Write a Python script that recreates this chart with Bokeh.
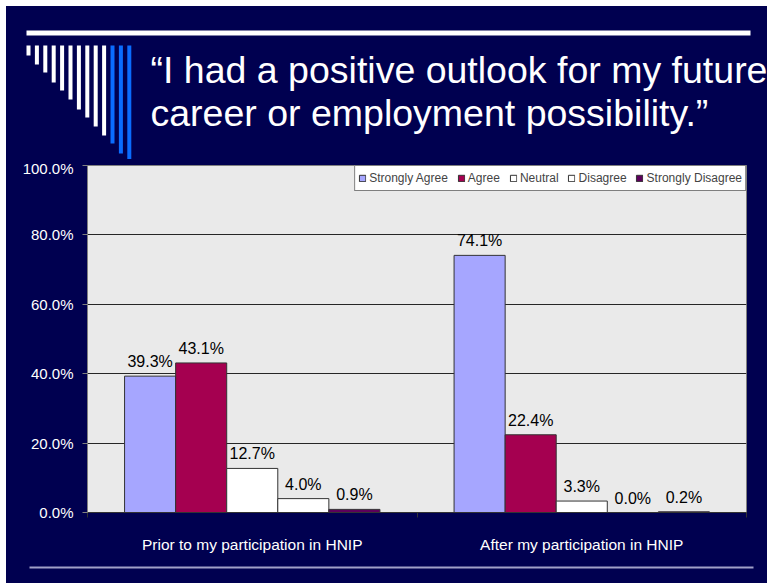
from bokeh.plotting import figure
from bokeh.layouts import column
from bokeh.models import (Range1d, FixedTicker, PrintfTickFormatter,
                          ColumnDataSource)
from bokeh.embed import file_html
from bokeh.resources import INLINE
from bokeh.core.properties import value

# ---------------- data ----------------
categories = ["Prior to my participation in HNIP", "After my participation in HNIP"]
series = ["Strongly Agree", "Agree", "Neutral", "Disagree", "Strongly Disagree"]
prior = [39.3, 43.1, 12.7, 4.0, 0.9]
after = [74.1, 22.4, 3.3, 0.0, 0.2]
y_ticks = [0, 20, 40, 60, 80, 100]
title_lines = ["\u201cI had a positive outlook for my future",
               "career or employment possibility.\u201d"]

# ---------------- style ----------------
colors = ["#A6A6FF", "#A50050", "#FFFFFF", "#FFFFFF", "#5C005C"]
NAVY = "#000050"
FONT = "Liberation Sans"
W = 761          # canvas width (page x 6..767)
TOP_H = 153      # page y 6..159
CHART_H = 396    # page y 159..555
BOT_H = 28       # page y 555..583


def deco_fig(y0, h):
    """A figure whose frame is the whole canvas, in page-pixel coordinates."""
    f = figure(width=W, height=h, output_backend="svg", toolbar_location=None,
               x_range=Range1d(6, 6 + W), y_range=Range1d(y0 + h, y0),
               x_axis_location=None, y_axis_location=None,
               min_border=0, min_border_left=0, min_border_right=0,
               min_border_top=0, min_border_bottom=0, frame_align=False)
    f.background_fill_color = NAVY
    f.border_fill_color = NAVY
    f.outline_line_color = None
    f.xgrid.visible = False
    f.ygrid.visible = False
    return f


# ---------- top: rule, comb decoration, title ----------
top = deco_fig(6, TOP_H)
top.quad(left=[26], right=[750], top=[30], bottom=[35],
         fill_color="white", line_color=None)
bottoms = [55, 64, 72, 82, 90, 99, 109, 117, 126, 135, 143, 153, 161]
lefts = [26 + 8.4 * i for i in range(len(bottoms))]
comb_cols = ["white"] * 10 + ["#0A6CFF"] * 3
top.quad(left=lefts, right=[l + 4 for l in lefts], top=[45] * len(bottoms),
         bottom=bottoms, fill_color=comb_cols, line_color=None)
top.text(x=[150, 150], y=[69, 112], text=title_lines,
         text_color="white", text_font=value(FONT), text_font_size="37.5px",
         text_baseline="alphabetic", text_align="left")

# ---------- chart ----------
p = figure(width=W, height=CHART_H, output_backend="svg", toolbar_location=None,
           x_range=Range1d(0, 2), y_range=Range1d(0, 100),
           min_border_left=81, min_border_right=21,
           min_border_top=6, min_border_bottom=43, frame_align=False)
p.background_fill_color = "#EAEAEA"
p.border_fill_color = NAVY
p.outline_line_color = "#808080"

bar_w = 0.155
for j, name in enumerate(series):
    vals = [prior[j], after[j]]
    xs = [i + 0.5 + (j - 2) * bar_w for i in range(len(categories))]
    src = ColumnDataSource(dict(x=xs, top=vals,
                                label=["%.1f%%" % v for v in vals]))
    p.vbar(x="x", top="top", width=bar_w, source=src,
           fill_color=colors[j], line_color="#333333", line_width=1,
           legend_label=name)
    p.text(x="x", y="top", text="label", source=src,
           text_align="center", text_baseline="bottom", y_offset=-6,
           text_font=value(FONT), text_font_size="16px", text_color="black")

# x axis
xa = p.xaxis[0]
xa.ticker = FixedTicker(ticks=[0.5, 1.5], minor_ticks=[0, 1, 2])
xa.major_label_overrides = {0.5: categories[0], 1.5: categories[1]}
xa.major_tick_line_color = None
xa.major_tick_out = 0
xa.major_tick_in = 0
xa.minor_tick_out = 5
xa.minor_tick_in = 0
xa.minor_tick_line_color = "#333333"
xa.axis_line_color = "#333333"
xa.major_label_text_color = "white"
xa.major_label_text_font = FONT
xa.major_label_text_font_size = "15.5px"
xa.major_label_standoff = 18

# y axis
ya = p.yaxis[0]
ya.ticker = FixedTicker(ticks=y_ticks, minor_ticks=[])
ya.formatter = PrintfTickFormatter(format="%.1f%%")
ya.major_tick_out = 5
ya.major_tick_in = 0
ya.major_tick_line_color = "#808080"
ya.minor_tick_line_color = None
ya.axis_line_color = "#808080"
ya.major_label_text_color = "white"
ya.major_label_text_font = FONT
ya.major_label_text_font_size = "15px"
ya.major_label_standoff = 9

p.xgrid.visible = False
p.ygrid.ticker = FixedTicker(ticks=y_ticks)
p.ygrid.grid_line_color = "#262626"

# legend
lg = p.legend[0]
lg.location = "top_right"
lg.orientation = "horizontal"
lg.margin = 0
lg.padding = 3
lg.spacing = 9
lg.glyph_width = 8
lg.glyph_height = 8
lg.label_standoff = 3
lg.label_height = 18
lg.label_text_font = FONT
lg.label_text_font_size = "12px"
lg.border_line_color = "black"
lg.background_fill_color = "white"
lg.background_fill_alpha = 1.0

# ---------- bottom rule ----------
bot = deco_fig(555, BOT_H)
bot.quad(left=[29], right=[753], top=[566], bottom=[568],
         fill_color="#A0A0C8", line_color=None)

layout = column(top, p, bot, spacing=0, margin=(6, 0, 0, 6),
                styles={"background-color": NAVY})
open("out.html", "w").write(file_html(layout, INLINE))
